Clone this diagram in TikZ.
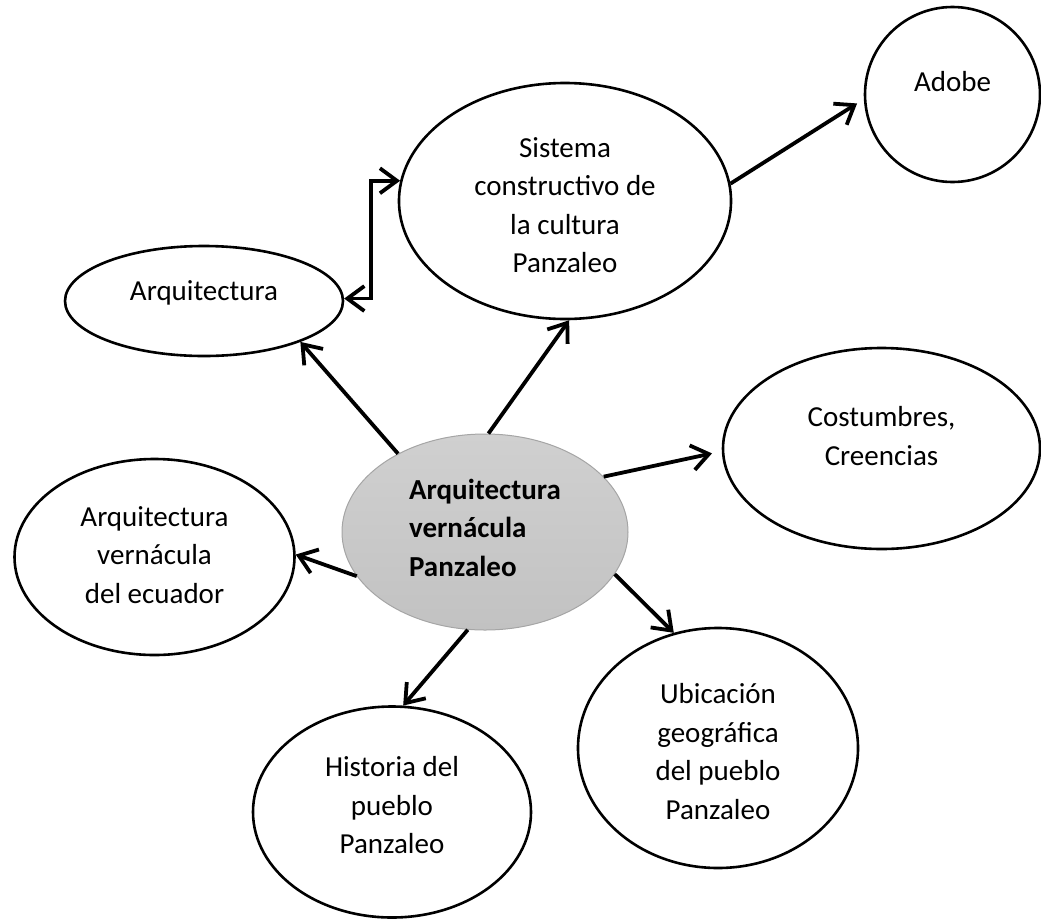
\documentclass[tikz,border=0pt]{standalone}
\usepackage{fontspec}
\setmainfont{Carlito}
\usetikzlibrary{arrows.meta,shapes.geometric}
\newcommand\lifttext[3][c]{\raisebox{#2}[\height][\depth]{\begin{tabular}{@{}#1@{}}#3\end{tabular}}}
\definecolor{shadetop}{RGB}{208,208,208}
\definecolor{shadebot}{RGB}{194,194,194}
\definecolor{rimgray}{RGB}{165,165,165}
\begin{document}
\begin{tikzpicture}[x=1pt,y=-1pt,
  bub/.style={ellipse, draw, line width=2.6pt, inner sep=0pt, fill=white,
    font=\fontsize{29}{38.5}\selectfont},
  con/.style={line width=3.8pt, -{Straight Barb[length=17pt,width=25pt]}},
]
\useasboundingbox (0,0) rectangle (1041,919);

\node[bub, minimum width=286pt, minimum height=196pt, draw=rimgray, line width=1pt,
  top color=shadetop, bottom color=shadebot,
  font=\fontsize{29}{38.5}\selectfont\bfseries] (c) at (485,532)
  {\lifttext[l]{2pt}{Arquitectura\\vernácula\\Panzaleo}};

\node[bub, minimum width=278pt, minimum height=110pt] (arq) at (204,301)
  {\lifttext{8pt}{Arquitectura}};
\node[bub, minimum width=332pt, minimum height=236pt] (sis) at (565,201)
  {\lifttext{-6.5pt}{Sistema\\constructivo de\\la cultura\\Panzaleo}};
\node[bub, minimum width=175pt, minimum height=175pt] (ado) at (952.5,94.5)
  {\lifttext{11pt}{Adobe}};
\node[bub, minimum width=317pt, minimum height=201pt] (cos) at (881.5,448.5)
  {\lifttext{10pt}{Costumbres,\\Creencias}};
\node[bub, minimum width=280pt, minimum height=196pt] (ver) at (154.5,557)
  {\lifttext{0pt}{Arquitectura\\vernácula\\del ecuador}};
\node[bub, minimum width=278pt, minimum height=211pt] (his) at (392,812)
  {\lifttext{4.5pt}{Historia del\\pueblo\\Panzaleo}};
\node[bub, minimum width=280pt, minimum height=240pt] (ubi) at (718,748)
  {\lifttext{-6pt}{Ubicación\\geográfica\\del pueblo\\Panzaleo}};

\draw[con] (c.138) -- (arq.-23);
\draw[con] (c.88) -- (sis.-88);
\draw[con, shorten >=8pt] (sis.6.6) -- (ado.-177.3);
\draw[con, shorten >=10pt] (c.25) -- (cos.-179.5);
\draw[con] (c.-161.4) -- (ver.1.6);
\draw[con] (c.-100.5) -- (his.84.6);
\draw[con] (c.-18.3) -- (ubi.111.7);
\coordinate (elb) at (371,240);
\draw[line width=3.8pt, {Straight Barb[length=17pt,width=25pt]}-{Straight Barb[length=17pt,width=25pt]}]
  (arq.1.6) -| (elb) |- (sis.173.4);
\end{tikzpicture}
\end{document}
